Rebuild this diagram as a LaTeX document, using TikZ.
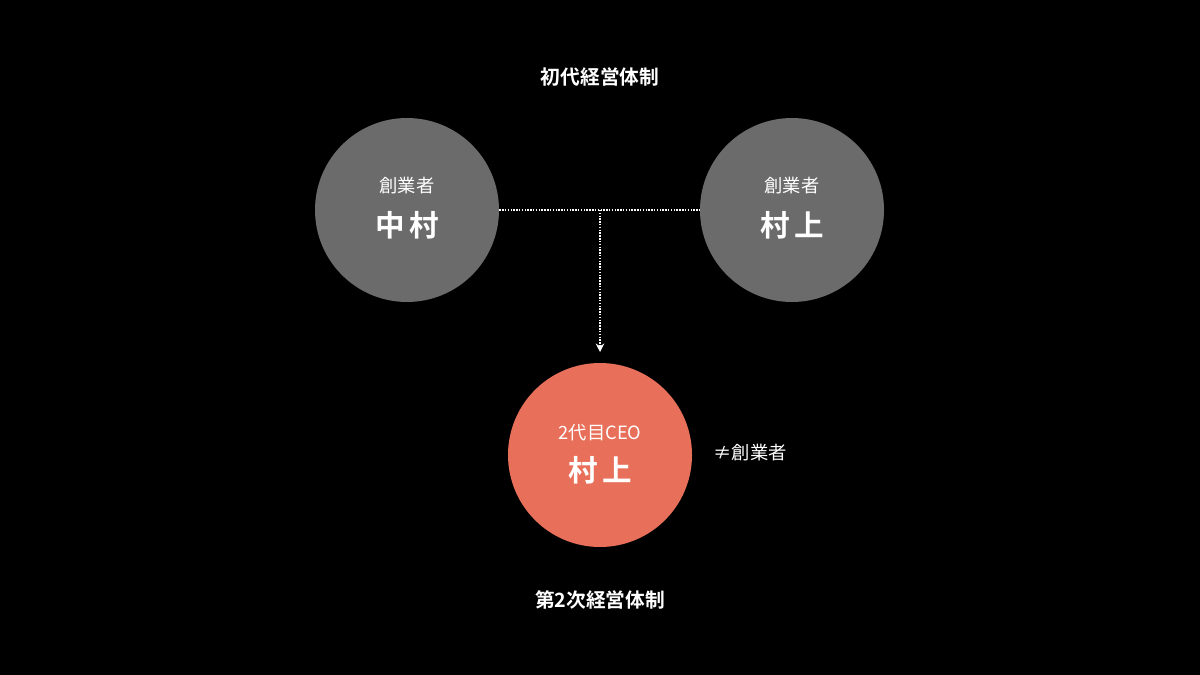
\documentclass[tikz,border=0pt]{standalone}
\usepackage{fontspec}
\newfontfamily\cjk{Noto Sans CJK JP}[BoldFont={* Bold}]
\usetikzlibrary{arrows.meta}
\definecolor{gr}{HTML}{6B6B6B}
\definecolor{rd}{HTML}{E8705A}
\begin{document}
\begin{tikzpicture}[x=0.025cm,y=-0.025cm,
  circ/.style={circle,minimum size=184*0.025cm,inner sep=0},
  small/.style={text=white,font=\cjk\fontsize{13}{13}\selectfont},
  big/.style={text=white,font=\cjk\bfseries\fontsize{21}{21}\selectfont},
  title/.style={text=white,font=\cjk\bfseries\fontsize{14}{14}\selectfont},
  conn/.style={white,densely dotted,line width=1pt}]
\fill[black] (0,0) rectangle (1200,675);
\node[circ,fill=gr] (L) at (407,210) {};
\node[circ,fill=gr] (R) at (792,210) {};
\node[circ,fill=rd] (B) at (600,455) {};
\node[small] (Ls) at (407,186) {創業者};
\node[big] (Lb) at (407,225) {中\,村};
\node[small] (Rs) at (792,186) {創業者};
\node[big] (Rb) at (792,225) {村\,上};
\node[small] (Bs) at (600,433) {2代目CEO};
\node[big] (Bb) at (600,470) {村\,上};
\node[small] (ne) at (750,453) {≠創業者};
\node[title] (t1) at (600,77) {初代経営体制};
\node[title] (t2) at (600,600) {第2次経営体制};
\coordinate (M) at (600,210);
\coordinate (A) at (600,352);
\draw[conn] (L.east) -- (R.west);
\draw[conn,-{Stealth[length=6pt,width=6pt]}] (M) -- (A);
\end{tikzpicture}
\end{document}
